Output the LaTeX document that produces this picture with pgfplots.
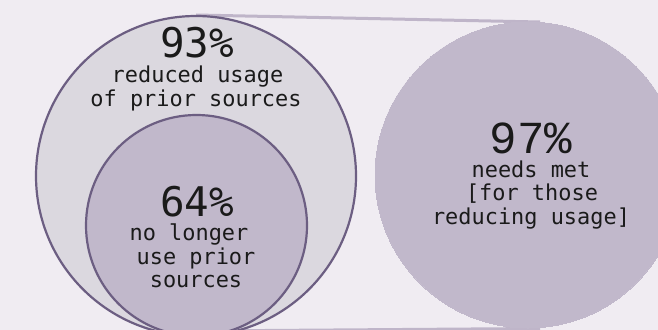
\documentclass[border=0pt]{standalone}
\usepackage{fontspec}
\setmainfont{DejaVu Sans Mono}
\newfontfamily\numfont{DejaVu Sans Mono}
\newfontfamily\sernum{Liberation Mono}
\usepackage{pgfplots}
\pgfplotsset{compat=1.18}
\definecolor{bg}{HTML}{F0ECF2}
\definecolor{outer}{HTML}{DBD8DF}
\definecolor{inner}{HTML}{C1B8CB}
\definecolor{right}{HTML}{C1B8CB}
\definecolor{outl}{HTML}{6C5E82}
\definecolor{lav}{HTML}{BFB5C9}
\definecolor{txt}{HTML}{1A1A1A}
\begin{document}
\begin{tikzpicture}
\fill[bg] (0,0) rectangle (658bp,330bp);
\useasboundingbox (0,0) rectangle (658bp,330bp);
\begin{axis}[at={(0,0)}, anchor=south west, width=658bp, height=330bp,
  scale only axis, xmin=0, xmax=658, ymin=0, ymax=330, hide axis, clip=false,
  clip marker paths=true]
% connector lines
\addplot[lav, line width=3bp] coordinates {(196,315) (540,308)};
\addplot[lav, line width=3bp] coordinates {(196,-1) (540,1.5)};
% right circle (97%)
\addplot[only marks, mark=*, mark size=153bp, mark options={fill=right, draw=right, line width=0pt}] coordinates {(528,155)};
% outer circle (93%)
\addplot[only marks, mark=*, mark size=160bp, mark options={fill=outer, draw=outl, line width=2.2bp}] coordinates {(196,154)};
% inner circle (64%)
\addplot[only marks, mark=*, mark size=110.5bp, mark options={fill=inner, draw=outl, line width=2.2bp}] coordinates {(196.5,104.5)};
\end{axis}
\begin{scope}[x=1bp, y=1bp, every node/.style={text=txt, inner sep=0pt, anchor=base}]
\node[font=\numfont\fontsize{41}{41}\selectfont] at (197,273) {93\%};
\node[font=\fontsize{22}{24}\selectfont] at (197.5,248) {reduced usage};
\node[font=\fontsize{22}{24}\selectfont] at (196,224) {of prior sources};
\node[font=\numfont\fontsize{41}{41}\selectfont] at (197,114) {64\%};
\node[font=\fontsize{22}{24}\selectfont] at (189,90) {no longer};
\node[font=\fontsize{22}{24}\selectfont] at (196,66) {use prior};
\node[font=\fontsize{22}{24}\selectfont] at (196,43) {sources};
\node[font=\sernum\fontsize{46}{46}\selectfont] at (531,177) {97\%};
\node[font=\fontsize{22}{24}\selectfont] at (531,153) {needs met};
\node[font=\fontsize{22}{24}\selectfont] at (532,130) {[for those};
\node[font=\fontsize{22}{24}\selectfont] at (531,106) {reducing usage]};
\end{scope}
\end{tikzpicture}
\end{document}
